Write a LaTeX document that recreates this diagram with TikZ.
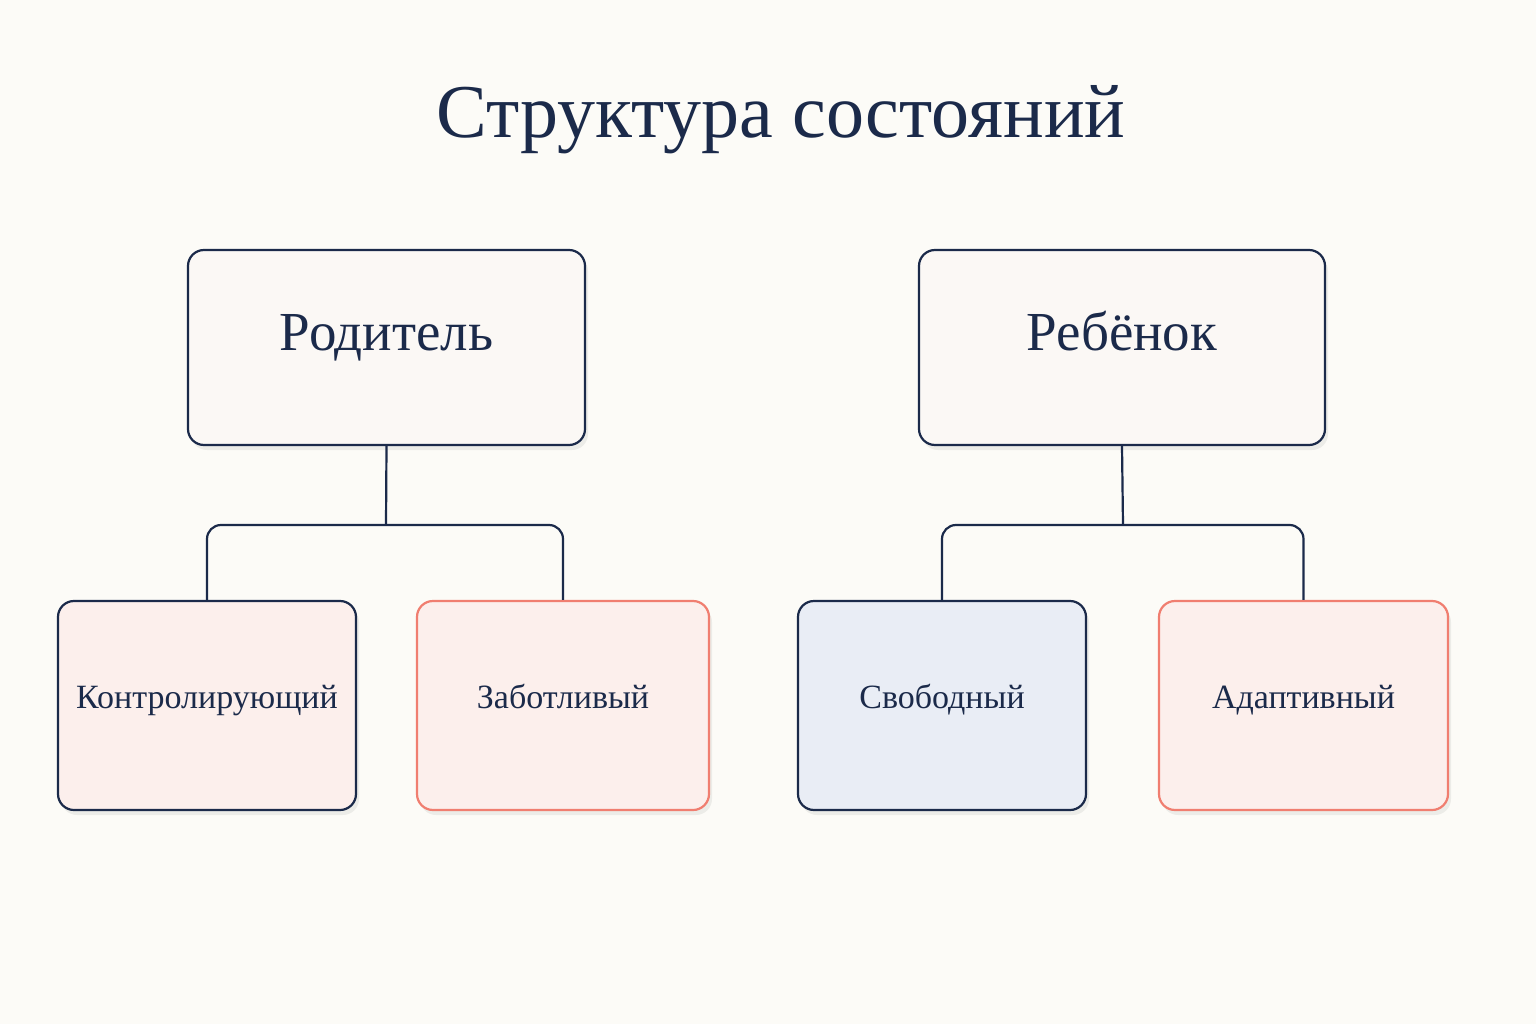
\documentclass[tikz,border=0pt]{standalone}
\usepackage{fontspec}
\setmainfont{Liberation Serif}
\usetikzlibrary{shadows}
\definecolor{navy}{HTML}{1B2A4A}
\definecolor{salmon}{HTML}{F07E70}
\definecolor{bg}{HTML}{FCFBF7}
\definecolor{pinkf}{HTML}{FCEFEC}
\definecolor{bluef}{HTML}{E9EDF5}
\definecolor{parf}{HTML}{FBF8F5}
\begin{document}
\begin{tikzpicture}[x=1pt,y=-1pt,
  box/.style={draw=navy,line width=2.2pt,rounded corners=16pt,fill=parf,text=navy,
    drop shadow={shadow xshift=3pt,shadow yshift=-5pt,opacity=0.12}},
  par/.style={box,minimum width=397pt,minimum height=195pt,font=\fontsize{55}{62}\selectfont,
    text height=0.68em,text depth=-0.55em},
  kid/.style={box,minimum height=209pt,font=\fontsize{34}{40}\selectfont,
    text height=0.68em,text depth=-0.6em},
  link/.style={draw=navy,line width=2.2pt,rounded corners=14pt}]
\fill[bg] (0,0) rectangle (1536,1024);
\useasboundingbox (0,0) rectangle (1536,1024);
\node[text=navy,font=\fontsize{76}{86}\selectfont] (title) at (781,120) {Структура состояний};
\node[par] (p) at (386.5,347.5) {Родитель};
\node[par,minimum width=406pt] (c) at (1122,347.5) {Ребёнок};
\node[kid,minimum width=298pt,fill=pinkf] (k1) at (207,705.5) {Контролирующий};
\node[kid,minimum width=292pt,fill=pinkf,draw=salmon] (k2) at (563,705.5) {Заботливый};
\node[kid,minimum width=288pt,fill=bluef] (k3) at (942,705.5) {Свободный};
\node[kid,minimum width=289pt,fill=pinkf,draw=salmon] (k4) at (1303.5,705.5) {Адаптивный};
\coordinate (j1) at (386,525);
\coordinate (j2) at (1123,525);
\draw[link] (p.south) -- (j1);
\draw[link] (k1.north) |- (j1) -| (k2.north);
\draw[link] (c.south) -- (j2);
\draw[link] (k3.north) |- (j2) -| (k4.north);
\end{tikzpicture}
\end{document}
